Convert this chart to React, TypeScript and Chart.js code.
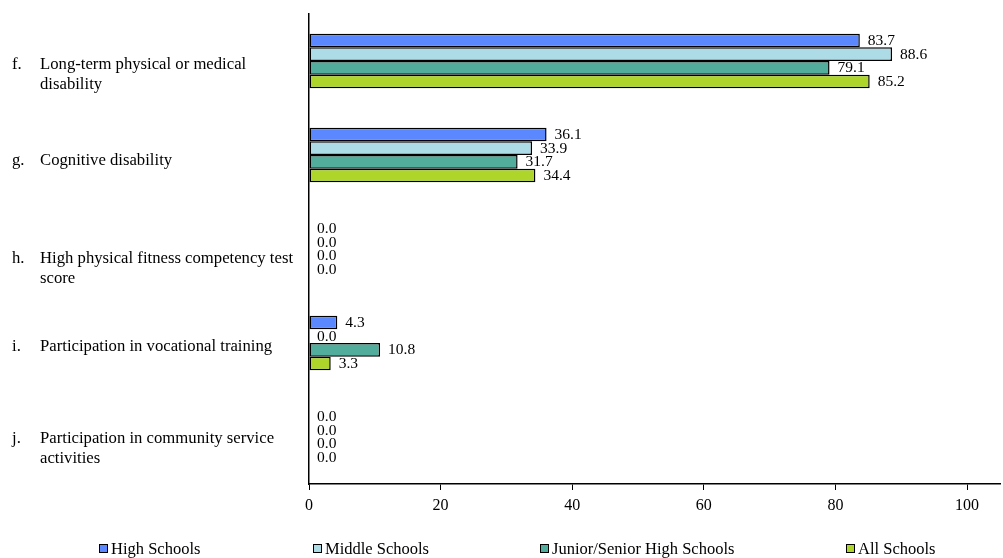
import React, { useEffect, useRef } from "react";
import { Chart, registerables } from "chart.js";

Chart.register(...registerables);

const letters = ["f.", "g.", "h.", "i.", "j."];
const categories: string[][] = [
  ["Long-term physical or medical", "disability"],
  ["Cognitive disability"],
  ["High physical fitness competency test", "score"],
  ["Participation in vocational training"],
  ["Participation in community service", "activities"],
];
const seriesNames = ["High Schools", "Middle Schools", "Junior/Senior High Schools", "All Schools"];
const highSchools = [83.7, 36.1, 0.0, 4.3, 0.0];
const middleSchools = [88.6, 33.9, 0.0, 0.0, 0.0];
const juniorSeniorHighSchools = [79.1, 31.7, 0.0, 10.8, 0.0];
const allSchools = [85.2, 34.4, 0.0, 3.3, 0.0];
const seriesColors = ["#5B87FF", "#ADDBE6", "#52AD9C", "#ADD52A"];
const xTickValues = [0, 20, 40, 60, 80, 100];

const FONT = "'Liberation Serif', 'Times New Roman', serif";

export default function App() {
  const canvasRef = useRef<HTMLCanvasElement | null>(null);

  useEffect(() => {
    const canvas = canvasRef.current;
    if (!canvas) return;

    const seriesValues = [highSchools, middleSchools, juniorSeniorHighSchools, allSchools];
    const labelNudge = [2, 4, 8, 2, 0];

    const categoryLabelsPlugin = {
      id: "categoryLabels",
      afterDraw(chart: any) {
        const ctx = chart.ctx;
        const yScale = chart.scales.y;
        ctx.save();
        ctx.font = `16.7px ${FONT}`;
        ctx.fillStyle = "#000";
        ctx.textBaseline = "middle";
        ctx.textAlign = "left";
        categories.forEach((lines, i) => {
          const cy = yScale.getPixelForTick(i) + 2 + labelNudge[i];
          ctx.fillText(letters[i], 12, cy);
          lines.forEach((line, j) => {
            ctx.fillText(line, 40, cy + j * 20);
          });
        });
        ctx.restore();
      },
    };

    const valueLabelsPlugin = {
      id: "valueLabels",
      afterDatasetsDraw(chart: any) {
        const ctx = chart.ctx;
        ctx.save();
        ctx.font = `15.5px ${FONT}`;
        ctx.fillStyle = "#000";
        ctx.textBaseline = "middle";
        ctx.textAlign = "left";
        chart.data.datasets.forEach((ds: any, di: number) => {
          const meta = chart.getDatasetMeta(di);
          meta.data.forEach((el: any, i: number) => {
            const v = ds.data[i] as number;
            ctx.fillText(v.toFixed(1), el.x + 8, el.y + 0.5);
          });
        });
        ctx.restore();
      },
    };

    const legendPlugin = {
      id: "customLegend",
      afterDraw(chart: any) {
        const ctx = chart.ctx;
        const xs = [99, 313, 540, 846];
        ctx.save();
        ctx.font = `16.5px ${FONT}`;
        ctx.textBaseline = "middle";
        ctx.textAlign = "left";
        seriesNames.forEach((name, i) => {
          const x = xs[i];
          ctx.fillStyle = seriesColors[i];
          ctx.fillRect(x, 544, 9, 9);
          ctx.strokeStyle = "#000";
          ctx.lineWidth = 1;
          ctx.strokeRect(x + 0.5, 544.5, 8, 8);
          ctx.fillStyle = "#000";
          ctx.fillText(name, x + 12, 550);
        });
        ctx.restore();
      },
    };

    const chart = new Chart(canvas, {
      type: "bar",
      data: {
        labels: categories.map((c) => c.join(" ")),
        datasets: seriesNames.map((name, i) => ({
          label: name,
          data: seriesValues[i],
          backgroundColor: seriesColors[i],
          borderColor: "#000",
          borderWidth: 1.5,
          borderSkipped: false,
          categoryPercentage: 0.58,
          barPercentage: 1.0,
        })),
      },
      options: {
        indexAxis: "y",
        animation: false,
        responsive: false,
        maintainAspectRatio: false,
        layout: { padding: { top: 14, right: 3, bottom: 0, left: 0 } },
        plugins: {
          legend: { display: false },
          tooltip: { enabled: false },
          title: { display: false },
        },
        scales: {
          x: {
            type: "linear",
            min: 0,
            max: 105,
            afterBuildTicks(scale: any) {
              scale.ticks = xTickValues.map((v) => ({ value: v }));
            },
            afterFit(scale: any) {
              scale.height = 74;
            },
            grid: {
              display: true,
              drawOnChartArea: false,
              drawTicks: true,
              tickLength: 6,
              color: "#000",
              lineWidth: 1,
            },
            border: { display: true, color: "#000", width: 1.5 },
            ticks: {
              color: "#000",
              font: { family: FONT, size: 16 },
              padding: 6,
              maxRotation: 0,
              callback: (v: any) => String(v),
            },
          },
          y: {
            type: "category",
            afterFit(scale: any) {
              scale.width = 309;
            },
            grid: { display: false, drawTicks: false },
            border: { display: true, color: "#000", width: 1.5 },
            ticks: { display: false },
          },
        },
      },
      plugins: [categoryLabelsPlugin, valueLabelsPlugin, legendPlugin],
    } as any);

    return () => {
      chart.destroy();
    };
  }, []);

  return (
    <div style={{ position: "fixed", left: 0, top: 0, width: 1003, height: 558, background: "#fff" }}>
      <canvas ref={canvasRef} width={1003} height={558} style={{ width: 1003, height: 558, display: "block" }} />
    </div>
  );
}
